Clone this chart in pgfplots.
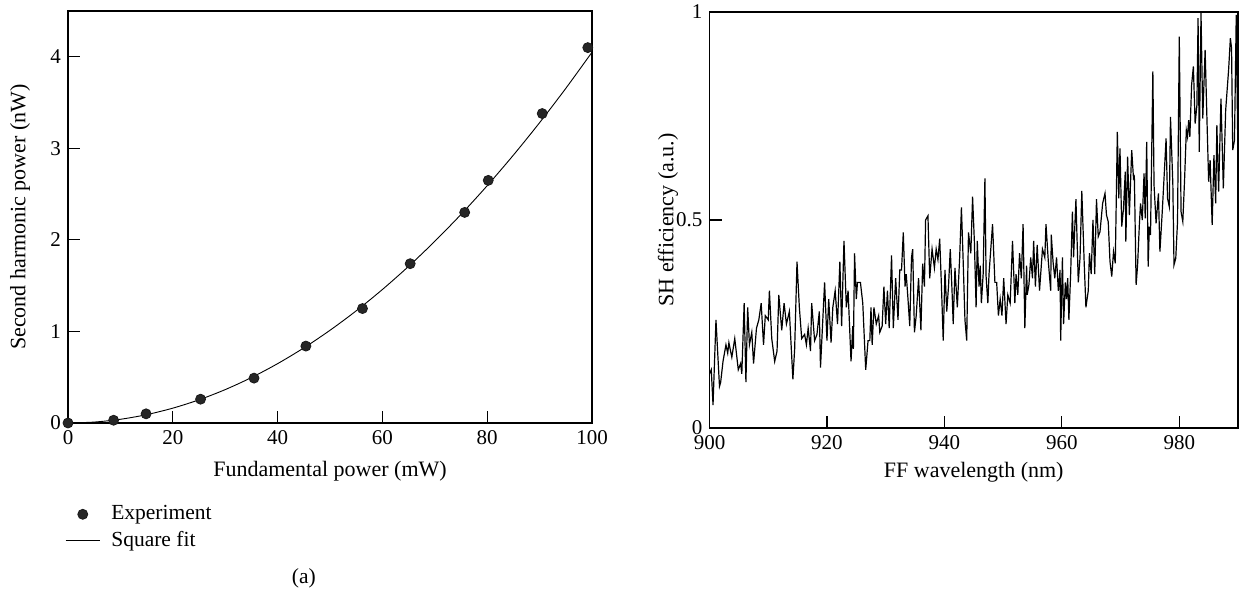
\documentclass[border=0pt]{standalone}
\usepackage{fontspec}
\setmainfont{Liberation Serif}
\usepackage{pgfplots}
\pgfplotsset{compat=1.18}

\pgfplotsset{
  panel/.style={
    scale only axis,
    axis line style={line width=0.6pt},
    every tick/.style={black, line width=0.6pt},
    major tick length=6pt,
    tick align=inside,
    xtick pos=left, ytick pos=left,
    /pgf/number format/assume math mode=true,
    tick label style={font=\fontsize{10.5}{12}\selectfont},
    label style={font=\fontsize{11}{13}\selectfont},
  }
}

\begin{document}
\begin{tikzpicture}
  \useasboundingbox (0pt,0pt) rectangle (621pt,296pt);

  % (a) second harmonic power vs fundamental power
  \begin{axis}[
    panel,
    at={(34pt,84.5pt)}, anchor=south west,
    width=262pt, height=206pt,
    xmin=0, xmax=100, ymin=0, ymax=4.5,
    xtick={0,20,...,100}, ytick={0,1,2,3,4},
    xlabel={Fundamental power (mW)},
    ylabel={Second harmonic power (nW)},
    xlabel style={at={(axis description cs:0.5,-0.1165)}, anchor=center},
    ylabel style={at={(axis description cs:-0.0916,0.5)}, anchor=center},
    clip=false,
    legend style={draw=none, fill=none, at={(axis description cs:-0.006,-0.19)},
      anchor=north west, inner sep=0pt,
      /tikz/every odd column/.append style={column sep=3.5pt},
      font=\fontsize{10.75}{12}\selectfont},
    legend cell align=left,
  ]
    \addplot[only marks, mark=*, mark size=2.5pt, draw=black!90, fill=black!85]
      coordinates {
      (0,0) (8.7,0.03) (14.9,0.10) (25.3,0.26) (35.5,0.49) (45.4,0.84)
      (56.2,1.25) (65.3,1.74) (75.7,2.30) (80.2,2.65) (90.5,3.38) (99.2,4.10)
    };
    \addlegendentry{Experiment}
    \addplot[black, line width=0.45pt, smooth, no markers] coordinates {
      (0,0) (5,0.0101) (10,0.0405) (15,0.0911) (20,0.1620) (25,0.2531)
      (30,0.3645) (35,0.4961) (40,0.6480) (45,0.8201) (50,1.0125) (55,1.2251)
      (60,1.4580) (65,1.7111) (70,1.9845) (75,2.2781) (80,2.5920) (85,2.9261)
      (90,3.2805) (95,3.6551) (100,4.05)
    };
    \addlegendentry{Square fit}
    \node[font=\fontsize{10.75}{12}\selectfont] at (axis description cs:0.45,-0.376) {(a)};
  \end{axis}

  % (b) SH efficiency vs FF wavelength
  \begin{axis}[
    panel,
    at={(354.75pt,82pt)}, anchor=south west,
    width=264.25pt, height=208pt,
    xmin=900, xmax=990, ymin=0, ymax=1,
    xtick={900,920,...,980}, ytick={0,0.5,1},
    xlabel={FF wavelength (nm)},
    ylabel={SH efficiency (a.u.)},
    xlabel style={at={(axis description cs:0.5,-0.106)}, anchor=center},
    ylabel style={at={(axis description cs:-0.0785,0.5)}, anchor=center},
  ]
    \addplot[black, line width=0.6pt, no markers] coordinates {
      (900.0,0.13) (900.3,0.14) (900.6,0.055) (901.1,0.26) (901.7,0.10)
      (901.9,0.11) (902.3,0.16) (902.8,0.20) (903.1,0.18) (903.3,0.205)
      (903.8,0.17) (904.3,0.215) (904.9,0.14) (905.3,0.155) (905.5,0.13)
      (905.9,0.30) (906.2,0.11) (906.5,0.29) (906.8,0.20) (907.2,0.23)
      (907.5,0.155) (908.0,0.24) (908.4,0.26) (908.8,0.30) (909.2,0.20)
      (909.5,0.27) (910.0,0.26) (910.2,0.33) (910.6,0.215) (911.1,0.16)
      (911.5,0.185) (911.8,0.32) (912.3,0.235) (912.7,0.30) (913.1,0.25)
      (913.6,0.28) (914.2,0.117) (914.5,0.19) (914.9,0.40) (915.3,0.29)
      (915.7,0.215) (916.2,0.225) (916.5,0.20) (916.8,0.24) (917.2,0.185)
      (917.4,0.30) (917.9,0.21) (918.3,0.225) (918.7,0.28) (918.9,0.145)
      (919.6,0.35) (920.0,0.21) (920.3,0.31) (920.7,0.205) (921.0,0.29)
      (921.4,0.33) (921.8,0.25) (922.2,0.40) (922.5,0.245) (922.9,0.45)
      (923.3,0.29) (923.6,0.33) (924.1,0.16) (924.4,0.245) (924.5,0.19)
      (924.7,0.42) (925.0,0.31) (925.2,0.35) (925.7,0.35) (926.1,0.30)
      (926.6,0.14) (927.0,0.21) (927.3,0.21) (927.5,0.29) (927.7,0.20)
      (928.0,0.29) (928.4,0.25) (928.8,0.27) (929.0,0.23) (929.4,0.245)
      (929.7,0.34) (930.0,0.25) (930.3,0.33) (930.6,0.24) (931.0,0.415)
      (931.3,0.24) (931.7,0.36) (932.1,0.26) (932.4,0.38) (932.7,0.38)
      (933.0,0.47) (933.3,0.34) (933.5,0.37) (933.8,0.31) (934.1,0.245)
      (934.4,0.41) (934.6,0.43) (934.9,0.23) (935.2,0.27) (935.6,0.36)
      (936.0,0.235) (936.3,0.395) (936.6,0.34) (936.8,0.50) (937.2,0.51)
      (937.5,0.36) (937.9,0.43) (938.3,0.385) (938.6,0.43) (938.9,0.405)
      (939.2,0.455) (939.5,0.34) (939.8,0.21) (940.1,0.38) (940.4,0.28)
      (940.7,0.34) (941.0,0.43) (941.3,0.33) (941.5,0.25) (941.8,0.385)
      (942.2,0.29) (942.6,0.41) (942.9,0.53) (943.2,0.40) (943.5,0.26)
      (943.8,0.21) (944.1,0.47) (944.5,0.42) (944.8,0.556) (945.1,0.45)
      (945.4,0.29) (945.6,0.45) (945.9,0.34) (946.1,0.39) (946.3,0.30)
      (946.6,0.37) (946.9,0.60) (947.1,0.365) (947.4,0.30) (947.6,0.37)
      (947.9,0.43) (948.2,0.49) (948.6,0.35) (948.9,0.35) (949.2,0.27)
      (949.5,0.31) (949.8,0.27) (950.1,0.36) (950.5,0.25) (950.8,0.32)
      (951.2,0.30) (951.6,0.45) (952.0,0.30) (952.2,0.37) (952.5,0.32)
      (952.8,0.42) (953.1,0.36) (953.4,0.49) (953.7,0.24) (954.0,0.39)
      (954.1,0.32) (954.4,0.345) (954.7,0.41) (955.0,0.36) (955.2,0.45)
      (955.5,0.34) (955.8,0.44) (956.2,0.33) (956.7,0.43) (957.1,0.41)
      (957.3,0.49) (957.7,0.40) (958.1,0.33) (958.2,0.465) (958.5,0.40)
      (958.8,0.36) (959.1,0.41) (959.4,0.33) (959.7,0.38) (959.8,0.21)
      (960.1,0.41) (960.3,0.25) (960.6,0.35) (960.8,0.31) (961.0,0.36)
      (961.2,0.26) (961.5,0.37) (961.8,0.52) (962.0,0.41) (962.4,0.55)
      (962.8,0.35) (963.1,0.41) (963.4,0.57) (963.8,0.40) (964.1,0.29)
      (964.5,0.33) (964.7,0.42) (965.0,0.37) (965.3,0.50) (965.6,0.37)
      (965.9,0.55) (966.2,0.46) (966.5,0.472) (966.95,0.54) (967.35,0.564)
      (967.6,0.512) (967.9,0.496) (968.2,0.400) (968.5,0.364) (968.8,0.424)
      (969.1,0.396) (969.45,0.712) (969.7,0.552) (969.9,0.672) (970.2,0.484)
      (970.5,0.528) (970.8,0.616) (970.9,0.448) (971.2,0.652) (971.5,0.512)
      (971.9,0.668) (972.2,0.600) (972.35,0.604) (972.65,0.344) (972.9,0.392)
      (973.2,0.488) (973.4,0.540) (973.7,0.500) (974.0,0.612) (974.2,0.504)
      (974.45,0.688) (974.7,0.388) (974.9,0.484) (975.1,0.464) (975.5,0.857)
      (975.7,0.584) (976.05,0.492) (976.45,0.564) (976.7,0.424) (977.1,0.520)
      (977.4,0.600) (977.75,0.696) (978.0,0.552) (978.3,0.532) (978.5,0.748)
      (978.9,0.588) (979.1,0.392) (979.4,0.408) (979.7,0.496) (980.0,0.941)
      (980.3,0.520) (980.6,0.496) (980.9,0.596) (981.2,0.716) (981.4,0.700)
      (981.6,0.740) (981.8,0.700) (982.1,0.825) (982.4,0.869) (982.7,0.732)
      (983.0,0.776) (983.2,0.985) (983.4,0.664) (983.7,0.997) (984.0,0.744)
      (984.4,0.909) (984.7,0.748) (985.0,0.592) (985.25,0.644) (985.6,0.488)
      (985.9,0.656) (986.2,0.540) (986.4,0.728) (986.7,0.568) (987.1,0.792)
      (987.5,0.576) (987.9,0.764) (988.4,0.861) (988.7,0.937) (988.9,0.913)
      (989.1,0.668) (989.4,0.692) (989.7,0.993) (990.0,0.632)
    };
    \node[font=\fontsize{10.75}{12}\selectfont] at (axis description cs:0.427,-0.36) {(b)};
  \end{axis}
\end{tikzpicture}
\end{document}
